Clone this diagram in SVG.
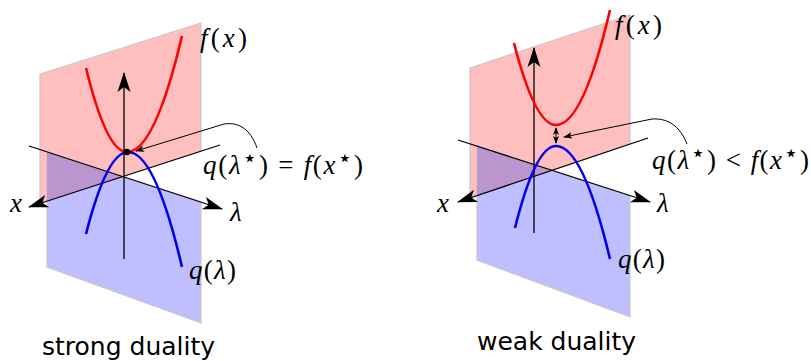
<svg xmlns="http://www.w3.org/2000/svg" width="811" height="361" viewBox="0 0 811 361">
<style>
.red{fill:#ffbfbf;stroke:#c8c8c8;stroke-width:1.2}
.blue{fill:#bfbfff;stroke:#c8c8c8;stroke-width:1.2}
.purple{fill:#bb95cd;stroke:none}
.ax{fill:none;stroke:#000;stroke-width:1.3;marker-end:url(#big)}
.ann{fill:none;stroke:#000;stroke-width:1;marker-end:url(#small)}
.fc{fill:none;stroke:#ff0000;stroke-width:2.6}
.qc{fill:none;stroke:#0000ee;stroke-width:2.6}
.m{font-family:"Liberation Serif","Times New Roman","DejaVu Serif",serif;font-size:27px;fill:#000}
.i{font-style:italic}
.st{font-family:"DejaVu Sans",sans-serif;font-size:24px;font-style:normal}
.lab{font-family:"DejaVu Sans",sans-serif;font-size:25px;fill:#000}
</style>
<defs>
<marker id="big" markerUnits="userSpaceOnUse" markerWidth="24" markerHeight="16" viewBox="-22 -8 24 16" refX="0" refY="0" orient="auto">
<path d="M1,0 L-19,-6.5 L-14,0 L-19,6.5 Z" fill="#000"/>
</marker>
<marker id="small" markerUnits="userSpaceOnUse" markerWidth="12" markerHeight="8" viewBox="-10 -4 12 8" refX="0" refY="0" orient="auto">
<path d="M1,0 L-8,-3.2 L-6,0 L-8,3.2 Z" fill="#000"/>
</marker>
<marker id="smallStart" markerUnits="userSpaceOnUse" markerWidth="12" markerHeight="8" viewBox="-10 -4 12 8" refX="0" refY="0" orient="auto-start-reverse">
<path d="M1,0 L-7,-3 L-5,0 L-7,3 Z" fill="#000"/>
</marker>
</defs>

<g id="strong">
<g id="planes-left">
<polygon class="red" points="40,74 201,23 201,151 40,203"/>
<polygon class="blue" points="47,152 201,202 201,323 47,267"/>
<polygon class="purple" points="47,152 124,177 47,201"/>
</g>
<g id="connectors-left">
<line class="ax" x1="124" y1="259" x2="124" y2="73"/>
<line class="ax" x1="29" y1="146" x2="222" y2="209"/>
<line class="ax" x1="220" y1="145" x2="29" y2="207"/>
<path class="ann" d="M257,148 C250,128 238,122 224,124 L136,151"/>
</g>
<g id="curves-left">
<path class="fc" d="M86,68 Q106.5,152 127,152 Q154.5,152 182,36"/>
<path class="qc" d="M86,234 Q107,152 128,152 Q155,152 182,267"/>
<circle cx="127" cy="152" r="3.3" fill="#000"/>
</g>
<g id="labels-left">
<text class="m" x="200" y="47" textLength="47"><tspan class="i">f</tspan>(<tspan class="i">x</tspan>)</text>
<text class="m" x="203" y="174" textLength="160"><tspan class="i">q</tspan>(<tspan class="i">λ</tspan><tspan class="st" dy="-8">⋆</tspan><tspan dy="8">) = </tspan><tspan class="i">f</tspan>(<tspan class="i">x</tspan><tspan class="st" dy="-8">⋆</tspan><tspan dy="8">)</tspan></text>
<text class="m i" x="10" y="212">x</text>
<text class="m i" x="230" y="221">λ</text>
<text class="m" x="189" y="279" textLength="47"><tspan class="i">q</tspan>(<tspan class="i">λ</tspan>)</text>
<text class="lab" x="42" y="355">strong duality</text>
</g>
</g>

<g id="weak">
<g id="planes-right">
<polygon class="red" points="470,68 630,15 630,144 470,198"/>
<polygon class="blue" points="477,146 630,196 630,317 477,260"/>
<polygon class="purple" points="477,146 552,171 477,196"/>
</g>
<g id="connectors-right">
<line class="ax" x1="534" y1="233" x2="534" y2="48"/>
<line class="ax" x1="458" y1="140" x2="650" y2="202"/>
<line class="ax" x1="648" y1="138" x2="458" y2="202"/>
<path class="ann" d="M687,144 C680,126 668,118 652,119 L564,137"/>
</g>
<g id="curves-right">
<path class="fc" d="M514,43 Q535,125 556,125 Q583,125 610,10"/>
<path class="qc" d="M515,228 Q535.5,146 556,146 Q583,146 610,259"/>
<line x1="556" y1="128" x2="556" y2="143" stroke="#000" stroke-width="1" marker-start="url(#smallStart)" marker-end="url(#smallStart)"/>
</g>
<g id="labels-right">
<text class="m" x="615" y="34" textLength="47"><tspan class="i">f</tspan>(<tspan class="i">x</tspan>)</text>
<text class="m" x="652" y="169" textLength="157"><tspan class="i">q</tspan>(<tspan class="i">λ</tspan><tspan class="st" dy="-8">⋆</tspan><tspan dy="8">) &lt; </tspan><tspan class="i">f</tspan>(<tspan class="i">x</tspan><tspan class="st" dy="-8">⋆</tspan><tspan dy="8">)</tspan></text>
<text class="m i" x="437" y="212">x</text>
<text class="m i" x="657" y="212">λ</text>
<text class="m" x="618" y="268" textLength="47"><tspan class="i">q</tspan>(<tspan class="i">λ</tspan>)</text>
<text class="lab" x="477" y="350">weak duality</text>
</g>
</g>
</svg>
